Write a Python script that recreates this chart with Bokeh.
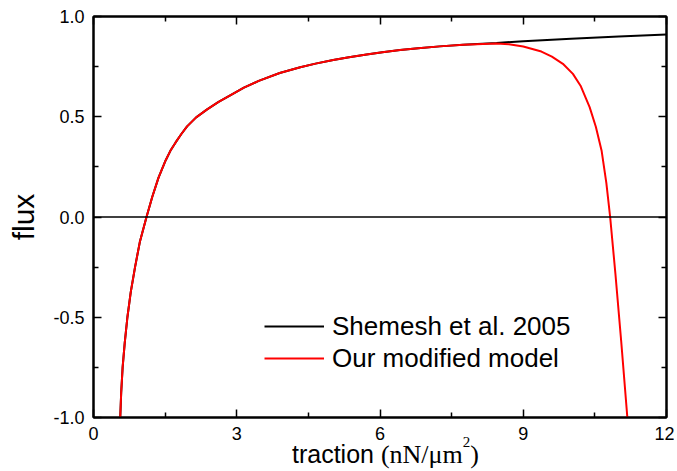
from bokeh.plotting import figure
from bokeh.models import Range1d, FixedTicker, LinearAxis, Span, Legend, LegendItem, Div
from bokeh.layouts import column
from bokeh.embed import file_html
from bokeh.resources import INLINE

# ---- data ----
traction_common = [0.56, 0.58, 0.61, 0.655, 0.71, 0.78, 0.87, 0.97, 1.11, 1.23, 1.36, 1.51,
                   1.61, 1.72, 1.84, 1.96, 2.15, 2.38, 2.62, 2.90, 3.15, 3.46, 3.90, 4.33,
                   4.65, 5.02, 5.35, 5.72, 6.05, 6.42, 6.80, 7.25, 7.74]
flux_common = [-1.0, -0.875, -0.75, -0.625, -0.5, -0.375, -0.25, -0.125, 0.0, 0.10, 0.195,
               0.282, 0.33, 0.372, 0.414, 0.452, 0.497, 0.537, 0.574, 0.612, 0.645, 0.679,
               0.718, 0.747, 0.765, 0.783, 0.797, 0.811, 0.822, 0.833, 0.842, 0.851, 0.859]

traction_shemesh_tail = [8.44, 9.0, 10.0, 11.0, 12.0]
flux_shemesh_tail = [0.868, 0.877, 0.889, 0.900, 0.910]

traction_model_tail = [8.44, 8.7, 9.0, 9.38, 9.6, 9.83, 10.04, 10.2, 10.39, 10.52,
                       10.64, 10.74, 10.82, 10.93, 11.05, 11.18]
flux_model_tail = [0.865, 0.862, 0.850, 0.825, 0.800, 0.764, 0.714, 0.655, 0.548, 0.45,
                   0.332, 0.17, 0.0, -0.283, -0.616, -1.0]

series_names = ["Shemesh et al. 2005", "Our modified model"]

x_major = [0, 3, 6, 9, 12]
x_minor = [1.5, 4.5, 7.5, 10.5]
y_major = [-1.0, -0.5, 0.0, 0.5, 1.0]
y_tick_labels = ["-1.0", "-0.5", "0.0", "0.5", "1.0"]
y_minor = [-0.75, -0.25, 0.25, 0.75]

x_title = "traction"
x_unit = "(nN/\u03bcm"
x_unit_sup = "2"

x_shemesh = traction_common + traction_shemesh_tail
y_shemesh = flux_common + flux_shemesh_tail
x_model = traction_common + traction_model_tail
y_model = flux_common + flux_model_tail

p = figure(width=674, height=447, x_range=Range1d(0, 12), y_range=Range1d(-1, 1),
           output_backend="svg", toolbar_location=None,
           min_border_left=93, min_border_top=16, min_border_right=8, min_border_bottom=30)
p.grid.visible = False
p.outline_line_color = "black"
p.outline_line_width = 2
p.background_fill_color = "white"
p.border_fill_color = "white"

FONT = "Liberation Sans"


def style_axis(ax, ticks, minor, show_labels=True):
    ax.ticker = FixedTicker(ticks=ticks, minor_ticks=minor)
    ax.axis_line_color = "black"
    ax.axis_line_width = 2
    ax.major_tick_in = 8
    ax.major_tick_out = 0
    ax.minor_tick_in = 5
    ax.minor_tick_out = 0
    ax.major_tick_line_color = "black"
    ax.minor_tick_line_color = "black"
    ax.major_tick_line_width = 1.5
    ax.minor_tick_line_width = 1.5
    ax.major_label_text_font = FONT
    ax.major_label_text_color = "black"
    ax.major_label_text_font_size = "18px"
    if show_labels:
        ax.major_label_standoff = 9
    else:
        ax.major_label_overrides = {t: "" for t in ticks}
        ax.major_label_standoff = 0


xb = p.xaxis[0]
yl = p.yaxis[0]
style_axis(xb, x_major, x_minor)
style_axis(yl, y_major, y_minor)
yl.major_label_overrides = {v: s for v, s in zip(y_major, y_tick_labels)}
yl.axis_label = "flux"
yl.axis_label_text_font = FONT
yl.axis_label_text_font_size = "30px"
yl.axis_label_text_font_style = "normal"
yl.axis_label_text_color = "black"
yl.axis_label_standoff = 10

xa = LinearAxis()
style_axis(xa, x_major, x_minor, show_labels=False)
p.add_layout(xa, "above")
yr = LinearAxis()
style_axis(yr, y_major, y_minor, show_labels=False)
p.add_layout(yr, "right")

p.add_layout(Span(location=0, dimension="width", line_color="black", line_width=1.5))

r1 = p.line(x_shemesh, y_shemesh, line_color="black", line_width=2)
r2 = p.line(x_model, y_model, line_color="#ff0000", line_width=2)

legend = Legend(items=[LegendItem(label=series_names[0], renderers=[r1]),
                       LegendItem(label=series_names[1], renderers=[r2])],
                location=(171, 43), background_fill_alpha=0, border_line_color=None,
                label_text_font=FONT, label_text_font_size="26px", label_text_color="black",
                glyph_width=60, glyph_height=32, label_height=32, spacing=0,
                padding=0, margin=0, label_standoff=8)
p.add_layout(legend)

# x axis title with mixed fonts: sans "traction" + serif units with superscript
title_html = (
    f"{x_title} <span style=\"font-family:'Liberation Serif';font-size:26px\">{x_unit}"
    f"<span style=\"font-size:15px;position:relative;top:-16px\">{x_unit_sup}</span>)</span>"
)
xtitle = Div(text=title_html, width=674, height=22, margin=(0, 0, 0, 0),
             styles={"font-family": "'Liberation Sans'", "font-size": "25px",
                     "line-height": "14px", "color": "black", "padding-left": "292px",
                     "white-space": "nowrap", "overflow": "visible"})

layout = column(p, xtitle, spacing=0)

open("out.html", "w").write(file_html(layout, INLINE))
